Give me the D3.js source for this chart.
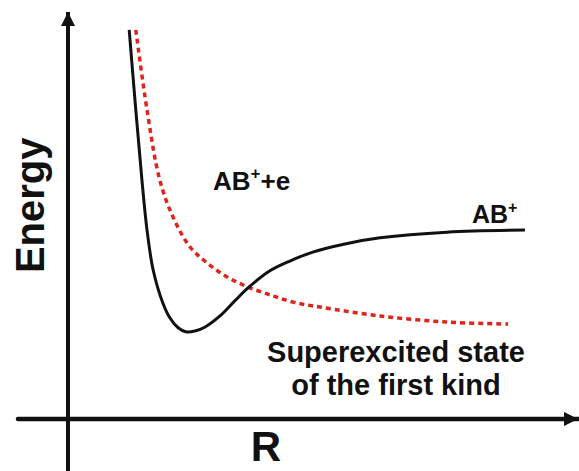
<!DOCTYPE html>
<html>
<head>
<meta charset="utf-8">
<script src="https://cdn.jsdelivr.net/npm/d3@7/dist/d3.min.js"></script>
<style>
  html, body { margin: 0; padding: 0; background: #fff; }
  svg { display: block; }
  text { font-family: Arial, "Liberation Sans", Helvetica, sans-serif; font-weight: bold; fill: #111; }
</style>
</head>
<body>
<svg id="chart" width="579" height="471"></svg>
<script>
// potential curves, R and energy in arbitrary units (0..100)
const boundR = [12.0, 13.3, 14.5, 15.5, 16.7, 18.6, 20.0, 21.6, 23.1, 24.9, 26.9, 29.8, 32.7, 35.3, 39.6, 43.5, 48.0, 54.3, 61.2, 74.3, 89.6];
const boundE = [95.6, 75.9, 58.7, 46.4, 36.6, 28.5, 24.8, 22.4, 21.4, 21.6, 22.6, 25.3, 29.0, 32.2, 36.4, 38.8, 41.0, 43.0, 44.5, 45.9, 46.4];
const superR = [13.3, 15.5, 18.0, 20.6, 23.9, 27.3, 31.2, 35.3, 39.6, 44.1, 49.4, 61.2, 74.3, 86.3];
const superE = [95.6, 75.9, 58.7, 49.6, 42.3, 38.3, 34.9, 32.4, 30.5, 28.7, 27.5, 25.3, 23.8, 23.3];

const xLabel = "R";
const yLabel = "Energy";
const superLabel = ["Superexcited state", "of the first kind"];

const svg = d3.select("#chart");

// axes cross at (0,0); domains reach a bit past it on the left/bottom
const x = d3.scaleLinear().domain([-9.8, 100]).range([18, 578]);
const y = d3.scaleLinear().domain([-12.8, 100]).range([471, 12]);

const defs = svg.append("defs");
defs.append("marker")
  .attr("id", "arrow")
  .attr("viewBox", "0 0 14 14")
  .attr("refX", 14).attr("refY", 7)
  .attr("markerWidth", 14).attr("markerHeight", 14)
  .attr("markerUnits", "userSpaceOnUse")
  .attr("orient", "auto")
  .append("path")
  .attr("d", "M0,0 L14,7 L0,14 Z")
  .attr("fill", "#111");

// axes
svg.append("line")
  .attr("x1", x(-9.8)).attr("x2", x(100))
  .attr("y1", y(0)).attr("y2", y(0))
  .attr("stroke", "#111").attr("stroke-width", 4.5)
  .attr("stroke-linecap", "round")
  .attr("marker-end", "url(#arrow)");
svg.append("line")
  .attr("x1", x(0)).attr("x2", x(0))
  .attr("y1", y(-12.8)).attr("y2", y(100))
  .attr("stroke", "#111").attr("stroke-width", 4)
  .attr("marker-end", "url(#arrow)");

const line = d3.line()
  .x(d => x(d[0])).y(d => y(d[1]))
  .curve(d3.curveCatmullRom.alpha(0.5));

svg.append("path")
  .datum(superR.map((r, i) => [r, superE[i]]))
  .attr("fill", "none")
  .attr("stroke", "#e0231c")
  .attr("stroke-width", 3.5)
  .attr("stroke-dasharray", "5 4")
  .attr("d", line);

svg.append("path")
  .datum(boundR.map((r, i) => [r, boundE[i]]))
  .attr("fill", "none")
  .attr("stroke", "#111")
  .attr("stroke-width", 3)
  .attr("d", line);

// labels
svg.append("text")
  .attr("transform", `translate(44,${y(52.5)}) rotate(-90)`)
  .attr("text-anchor", "middle")
  .attr("font-size", 40)
  .text(yLabel);

svg.append("text")
  .attr("x", x(38.8)).attr("y", 461)
  .attr("text-anchor", "middle")
  .attr("font-size", 42)
  .text(xLabel);

const ion = svg.append("text")
  .attr("x", 213).attr("y", 190)
  .attr("font-size", 26);
ion.append("tspan").text("AB");
ion.append("tspan").attr("font-size", 17).attr("dy", -11).text("+");
ion.append("tspan").attr("dy", 11).text("+e");

const ab = svg.append("text")
  .attr("x", 472).attr("y", 223)
  .attr("font-size", 25);
ab.append("tspan").text("AB");
ab.append("tspan").attr("font-size", 16).attr("dy", -10).text("+");

svg.append("g").selectAll("text").data(superLabel).join("text")
  .attr("x", 396)
  .attr("y", (d, i) => 362 + i * 33)
  .attr("text-anchor", "middle")
  .attr("font-size", 29)
  .text(d => d);
</script>
</body>
</html>
